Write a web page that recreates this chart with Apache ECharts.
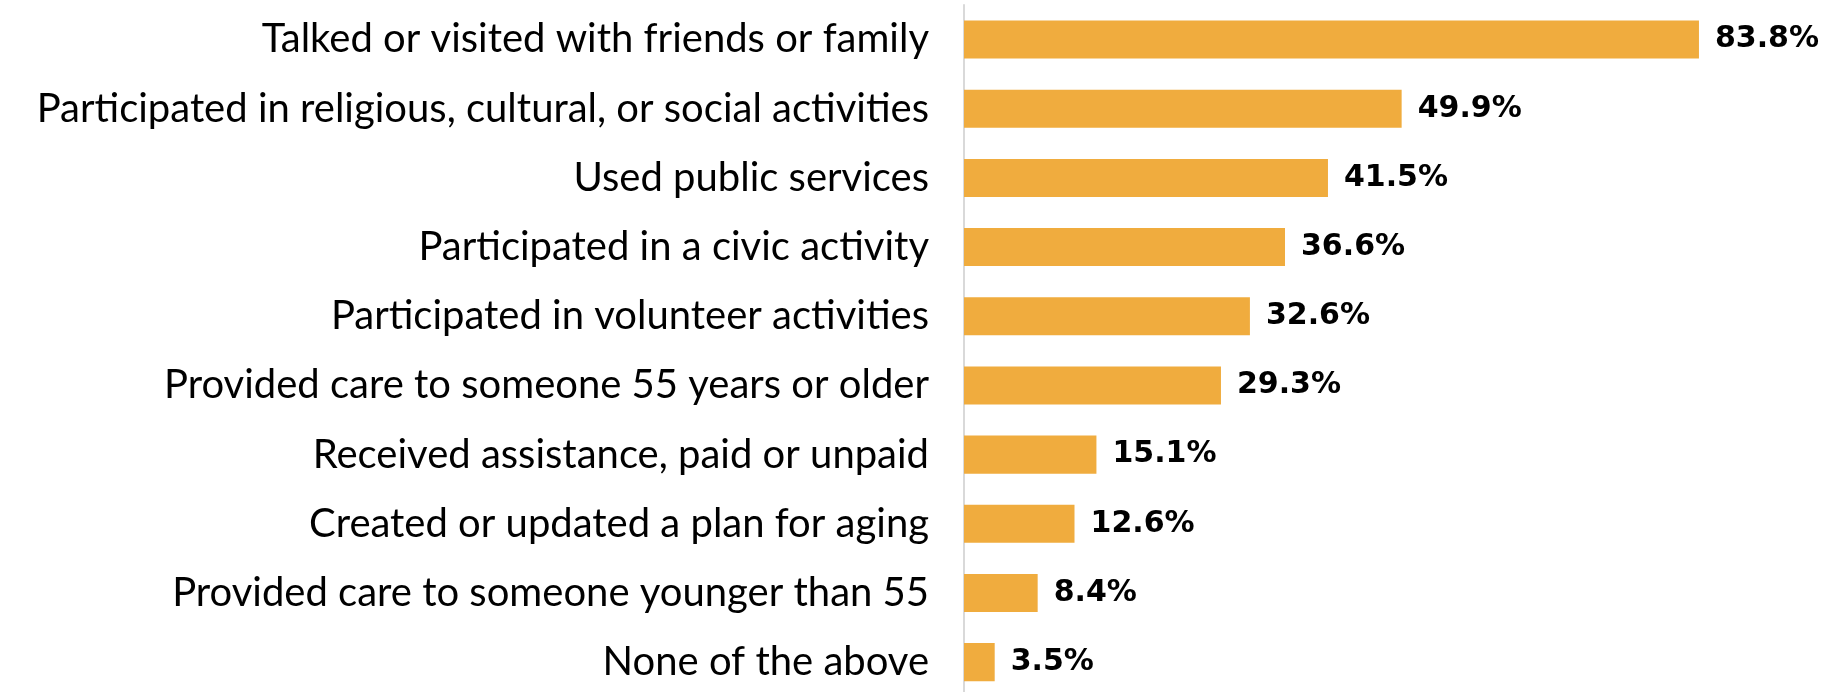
<!DOCTYPE html>
<html>
<head>
<meta charset="utf-8">
<script src="https://cdn.jsdelivr.net/npm/echarts@6/dist/echarts.min.js"></script>
<style>
html,body{margin:0;padding:0;background:#fff;overflow:hidden;}
#chart{width:1826px;height:698px;}
</style>
</head>
<body>
<div id="chart"></div>
<script>
const categories = [
  "Talked or visited with friends or family",
  "Participated in religious, cultural, or social activities",
  "Used public services",
  "Participated in a civic activity",
  "Participated in volunteer activities",
  "Provided care to someone 55 years or older",
  "Received assistance, paid or unpaid",
  "Created or updated a plan for aging",
  "Provided care to someone younger than 55",
  "None of the above"
];
const values = [83.8, 49.9, 41.5, 36.6, 32.6, 29.3, 15.1, 12.6, 8.4, 3.5];

const chart = echarts.init(document.getElementById('chart'), null, {renderer: 'canvas'});
chart.setOption({
  animation: false,
  backgroundColor: '#ffffff',
  grid: {left: 964, top: 5, width: 859.5, height: 691.7, containLabel: false},
  xAxis: {
    type: 'value', min: 0, max: 98,
    show: false
  },
  yAxis: {
    type: 'category',
    data: categories,
    inverse: true,
    axisLine: {show: true, lineStyle: {color: '#d9d9d9', width: 2}},
    axisTick: {show: false},
    axisLabel: {
      color: '#000000',
      fontFamily: 'Lato',
      fontSize: 40,
      margin: 35
    },
    splitLine: {show: false}
  },
  series: [{
    type: 'bar',
    data: values,
    barCategoryGap: '45%',
    itemStyle: {color: '#F0AC3E'},
    label: {
      show: true,
      position: 'right',
      distance: 16,
      formatter: p => p.value.toFixed(1) + '%',
      color: '#000000',
      fontFamily: 'DejaVu Sans',
      fontWeight: 'bold',
      fontSize: 30
    }
  }]
});
</script>
</body>
</html>
